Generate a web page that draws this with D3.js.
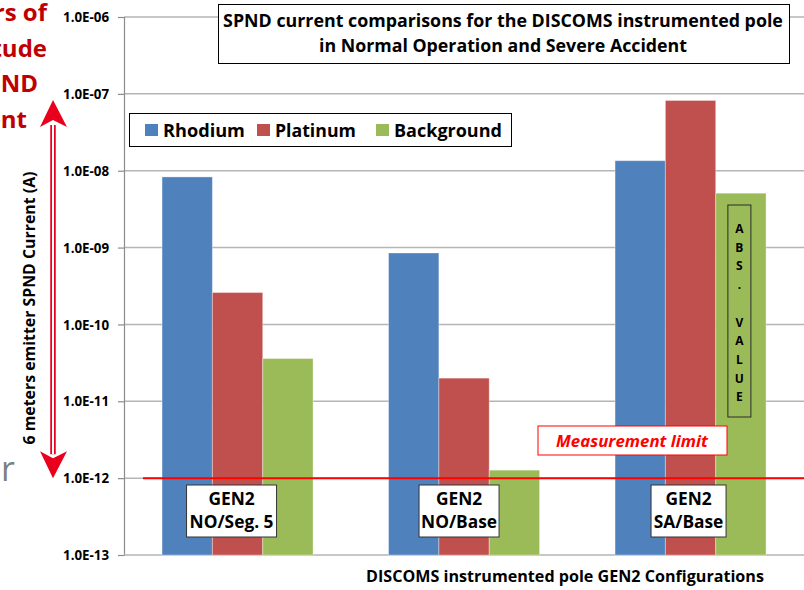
<!DOCTYPE html>
<html>
<head>
<meta charset="utf-8">
<script src="https://cdn.jsdelivr.net/npm/d3@7"></script>
<style>
  body { margin: 0; background: #fff; }
  svg { display: block; font-family: "Open Sans", sans-serif; }
</style>
</head>
<body>
<svg width="804" height="590"></svg>
<script>
// categories (two text lines per label box)
const categories = ["GEN2 NO/Seg. 5", "GEN2 NO/Base", "GEN2 SA/Base"];
const catLines = [["GEN2", "NO/Seg. 5"], ["GEN2", "NO/Base"], ["GEN2", "SA/Base"]];
const seriesNames = ["Rhodium", "Platinum", "Background"];
const seriesColors = ["#4f81bd", "#c0504d", "#9bbb59"];
// SPND current (A)
const rhodium = [8.3e-9, 8.5e-10, 1.35e-8];
const platinum = [2.6e-10, 2.0e-11, 8.2e-8];
const background = [3.6e-11, 1.27e-12, 5.1e-9];
const tickVals = [1e-13, 1e-12, 1e-11, 1e-10, 1e-9, 1e-8, 1e-7, 1e-6];
const measurementLimit = 1e-12;
const absLetters = ["A", "B", "S", ".", "", "V", "A", "L", "U", "E"];

const seriesValues = [rhodium, platinum, background];

let svg = d3.select("svg");

// scales
let y = d3.scaleLog().domain([1e-13, 1e-6]).range([555, 17]);
let x0 = d3.scaleBand().domain(categories).range([124.3, 803.8])
    .paddingInner(1 / 3).paddingOuter(1 / 6);
let x1 = d3.scaleBand().domain(seriesNames).range([0, x0.bandwidth()]);

// fit text into a given width by tuning its font-size
function fitText(sel, width) {
    sel.each(function () {
        let t = d3.select(this);
        let fs = parseFloat(t.attr("font-size"));
        let w = this.getComputedTextLength();
        if (w > 0) t.attr("font-size", (fs * width / w).toFixed(2));
    });
}

function fmtExp(d) {
    let e = Math.round(Math.log10(d));
    let s = Math.abs(e) < 10 ? "0" + Math.abs(e) : "" + Math.abs(e);
    return "1.0E" + (e < 0 ? "-" : "+") + s;
}

// gridlines
svg.append("g")
    .selectAll("line")
    .data(tickVals.filter(d => d > 1e-13))
    .enter().append("line")
    .attr("x1", 124).attr("x2", 804)
    .attr("y1", d => y(d)).attr("y2", d => y(d))
    .attr("stroke", "#b5b5b5")
    .attr("stroke-width", 1.5);

// y axis
let yAxis = svg.append("g")
    .attr("transform", "translate(124,0)")
    .call(d3.axisLeft(y).tickValues(tickVals).tickFormat(fmtExp).tickSize(6).tickPadding(9));
yAxis.select(".domain").attr("stroke", "#8c8c8c").attr("stroke-width", 1.2);
yAxis.selectAll(".tick line").attr("stroke", "#8c8c8c").attr("stroke-width", 1.2);
yAxis.selectAll(".tick text")
    .attr("font-family", "Open Sans")
    .attr("font-weight", "bold")
    .attr("font-size", 12)
    .attr("fill", "#000")
    .attr("dy", "0.35em");
fitText(yAxis.selectAll(".tick text"), 46);

// bottom axis line
svg.append("line")
    .attr("x1", 124).attr("x2", 804)
    .attr("y1", y(1e-13)).attr("y2", y(1e-13))
    .attr("stroke", "#b5b5b5").attr("stroke-width", 1.5);

// bars
let groups = svg.append("g").selectAll("g")
    .data(categories)
    .enter().append("g")
    .attr("transform", d => "translate(" + x0(d) + ",0)");

groups.selectAll("rect")
    .data((c, ci) => seriesNames.map((s, si) => ({ series: s, si: si, value: seriesValues[si][ci] })))
    .enter().append("rect")
    .attr("x", d => x1(d.series))
    .attr("width", x1.bandwidth())
    .attr("y", d => y(d.value))
    .attr("height", d => y(1e-13) - y(d.value))
    .attr("fill", d => seriesColors[d.si])
    .attr("stroke", "#ffffff")
    .attr("stroke-opacity", 0.35)
    .attr("stroke-width", 1);

// measurement limit line
svg.append("line")
    .attr("x1", 143).attr("x2", 804)
    .attr("y1", y(measurementLimit)).attr("y2", y(measurementLimit))
    .attr("stroke", "#ff0000").attr("stroke-width", 2);

// measurement limit label
svg.append("rect")
    .attr("x", 538).attr("y", 426).attr("width", 189).attr("height", 29)
    .attr("fill", "#fff").attr("stroke", "#ff0000").attr("stroke-width", 1);
svg.append("text")
    .attr("x", 632).attr("y", 447)
    .attr("text-anchor", "middle")
    .attr("font-weight", "bold").attr("font-style", "italic")
    .attr("font-size", 15).attr("fill", "#ff0000")
    .text("Measurement limit")
    .call(fitText, 152);

// category label boxes
const boxW = [90, 80, 75];
const boxShift = [-6, -5, -2];
// one font size for all boxes, set so that "NO/Seg. 5" is ~84px wide
let probe = svg.append("text").attr("font-weight", "bold").attr("font-size", 14).text(catLines[0][1]);
let catFont = 14 * 84 / probe.node().getComputedTextLength();
probe.remove();
categories.forEach((c, i) => {
    let cx = x0(c) + x0.bandwidth() / 2 + boxShift[i];
    svg.append("rect")
        .attr("x", cx - boxW[i] / 2).attr("y", 485)
        .attr("width", boxW[i]).attr("height", 52)
        .attr("fill", "#fff").attr("stroke", "#333").attr("stroke-width", 1);
    catLines[i].forEach((ln, li) => {
        svg.append("text")
            .attr("x", cx).attr("y", 505 + li * 23)
            .attr("text-anchor", "middle")
            .attr("font-weight", "bold").attr("font-size", catFont.toFixed(2))
            .attr("fill", "#000")
            .text(ln);
    });
});

// ABS. VALUE box inside the SA background bar
let absX = x0(categories[2]) + x1("Background") + x1.bandwidth() / 2 - 1.5;
svg.append("rect")
    .attr("x", absX - 11.5).attr("y", 205)
    .attr("width", 23).attr("height", 212)
    .attr("fill", "none").attr("stroke", "#2a2a2a").attr("stroke-width", 1);
svg.append("g").selectAll("text")
    .data(absLetters)
    .enter().append("text")
    .attr("x", absX)
    .attr("y", (d, i) => 233 + i * 18.7)
    .attr("text-anchor", "middle")
    .attr("font-weight", "bold").attr("font-size", 12)
    .attr("fill", "#000")
    .text(d => d);

// title
svg.append("rect")
    .attr("x", 218.5).attr("y", 4.5).attr("width", 571).attr("height", 59)
    .attr("fill", "#fff").attr("stroke", "#000").attr("stroke-width", 1);
svg.append("text")
    .attr("x", 503).attr("y", 27)
    .attr("text-anchor", "middle")
    .attr("font-weight", "bold").attr("font-size", 16)
    .text("SPND current comparisons for the DISCOMS instrumented pole")
    .call(fitText, 560);
svg.append("text")
    .attr("x", 503).attr("y", 52)
    .attr("text-anchor", "middle")
    .attr("font-weight", "bold").attr("font-size", 16)
    .text("in Normal Operation and Severe Accident")
    .call(fitText, 368);

// legend
let legend = svg.append("g");
legend.append("rect")
    .attr("x", 129.5).attr("y", 113.5).attr("width", 382).attr("height", 33)
    .attr("fill", "#fff").attr("stroke", "#000").attr("stroke-width", 1);
const legX = [145, 257, 376];
const legW = [82, 81, 108];
seriesNames.forEach((s, i) => {
    legend.append("rect")
        .attr("x", legX[i]).attr("y", 124)
        .attr("width", 13).attr("height", 12)
        .attr("fill", seriesColors[i]);
    legend.append("text")
        .attr("x", legX[i] + 18).attr("y", 136.5)
        .attr("font-weight", "bold").attr("font-size", 18)
        .attr("fill", "#000")
        .text(s)
        .call(fitText, legW[i]);
});

// axis titles
svg.append("text")
    .attr("transform", "translate(35,308) rotate(-90)")
    .attr("text-anchor", "middle")
    .attr("font-weight", "bold").attr("font-size", 14)
    .text("6 meters emitter SPND Current (A)")
    .call(fitText, 273);
svg.append("text")
    .attr("x", 565).attr("y", 582)
    .attr("text-anchor", "middle")
    .attr("font-weight", "bold").attr("font-size", 14)
    .text("DISCOMS instrumented pole GEN2 Configurations")
    .call(fitText, 398);

// double-headed red arrow spanning the orders of magnitude
let arrowTop = 100, arrowBot = y(measurementLimit);
svg.append("line")
    .attr("x1", 53).attr("x2", 53).attr("y1", arrowTop + 25).attr("y2", arrowBot - 24)
    .attr("stroke", "#e8001c").attr("stroke-width", 5.5);
svg.append("line")
    .attr("x1", 53).attr("x2", 53).attr("y1", arrowTop + 25).attr("y2", arrowBot - 24)
    .attr("stroke", "#fff").attr("stroke-width", 2);
svg.append("path")
    .attr("d", `M53,${arrowTop} L67,${arrowTop + 27} L53,${arrowTop + 20} L40,${arrowTop + 27} Z`)
    .attr("fill", "#e8001c");
svg.append("path")
    .attr("d", `M53,${arrowBot} L67,${arrowBot - 27} L53,${arrowBot - 20} L40,${arrowBot - 27} Z`)
    .attr("fill", "#e8001c");

// cut-off annotation text on the left edge
const sideText = [["rs of", 47, 21], ["tude", 47, 57], ["ND", 38, 92], ["ent", 27, 128]];
svg.append("g").selectAll("text")
    .data(sideText)
    .enter().append("text")
    .attr("x", d => d[1]).attr("y", d => d[2])
    .attr("text-anchor", "end")
    .attr("font-weight", "bold").attr("font-size", 24)
    .attr("fill", "#c00000")
    .text(d => d[0]);
svg.append("text")
    .attr("x", 1).attr("y", 481)
    .attr("font-size", 34).attr("fill", "#7f7f7f")
    .text("r");
</script>
</body>
</html>
